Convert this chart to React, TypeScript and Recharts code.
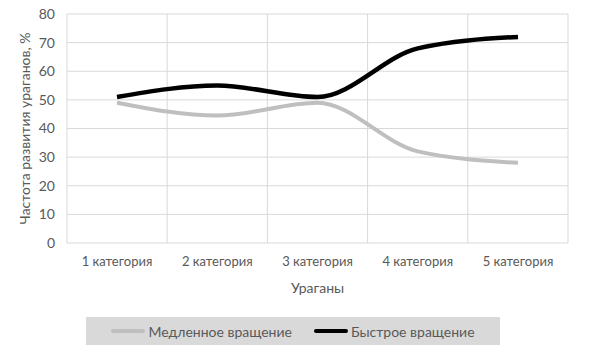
import { LineChart, Line, XAxis, YAxis, CartesianGrid } from 'recharts'

const categories = ['1 категория', '2 категория', '3 категория', '4 категория', '5 категория']
const slowRotation = [49, 44.5, 49, 32, 28]
const fastRotation = [51, 55, 51, 68, 72]
const yTicks = [0, 10, 20, 30, 40, 50, 60, 70, 80]
const seriesNames = ['Медленное вращение', 'Быстрое вращение']

const data = categories.map((c, i) => ({
  category: c,
  slow: slowRotation[i],
  fast: fastRotation[i],
}))

const FONT = 'Lato, "Open Sans", sans-serif'
const TEXT = '#595959'
const GRID = '#d9d9d9'
const SLOW_COLOR = '#bfbfbf'
const FAST_COLOR = '#000000'

// vertical grid lines sit on the category band edges, like Excel
function bandEdges({ offset }: any): number[] {
  const n = categories.length
  const step = offset.width / n
  return Array.from({ length: n + 1 }, (_, i) => offset.left + i * step)
}

function LegendBox() {
  const item = (color: string, name: string) => (
    <span style={{ display: 'inline-flex', alignItems: 'center', marginRight: 22 }}>
      <span style={{ display: 'inline-block', width: 34, height: 4, background: color, borderRadius: 2 }} />
      <span style={{ marginLeft: 3 }}>{name}</span>
    </span>
  )
  return (
    <div
      style={{
        position: 'absolute',
        left: 86,
        top: 317,
        width: 414,
        height: 28,
        background: '#d9d9d9',
        display: 'flex',
        alignItems: 'center',
        justifyContent: 'center',
        fontFamily: FONT,
        fontSize: 14,
        color: TEXT,
        paddingLeft: 22,
        boxSizing: 'border-box',
      }}
    >
      {item(SLOW_COLOR, seriesNames[0])}
      {item(FAST_COLOR, seriesNames[1])}
    </div>
  )
}

export default function App() {
  return (
    <div style={{ position: 'absolute', left: 0, top: 0, width: 589, height: 352, background: '#fff' }}>
      <LineChart
        width={589}
        height={352}
        data={data}
        margin={{ top: 14, right: 21, left: 0, bottom: 49 }}
      >
        <CartesianGrid stroke={GRID} strokeWidth={1} verticalCoordinatesGenerator={bandEdges} />
        <XAxis
          dataKey="category"
          height={60}
          padding={{ left: 50, right: 50 }}
          axisLine={false}
          tickLine={false}
          tickSize={0}
          tickMargin={14}
          interval={0}
          tick={{ fill: TEXT, fontSize: 13, fontFamily: FONT }}
          label={{
            value: 'Ураганы',
            position: 'insideBottom',
            offset: 10,
            fill: TEXT,
            fontSize: 14,
            fontFamily: FONT,
          }}
        />
        <YAxis
          width={67}
          domain={[0, 80]}
          ticks={yTicks}
          axisLine={false}
          tickLine={false}
          tickSize={0}
          tickMargin={12}
          tick={{ fill: TEXT, fontSize: 14, fontFamily: FONT }}
          label={{
            value: 'Частота развития ураганов, %',
            angle: -90,
            position: 'insideLeft',
            offset: 25,
            style: { textAnchor: 'middle' },
            fill: TEXT,
            fontSize: 14,
            fontFamily: FONT,
          }}
        />
        <Line
          type="monotone"
          dataKey="slow"
          name={seriesNames[0]}
          stroke={SLOW_COLOR}
          strokeWidth={4}
          dot={false}
          isAnimationActive={false}
        />
        <Line
          type="monotone"
          dataKey="fast"
          name={seriesNames[1]}
          stroke={FAST_COLOR}
          strokeWidth={4.5}
          dot={false}
          isAnimationActive={false}
        />
      </LineChart>
      <LegendBox />
    </div>
  )
}
